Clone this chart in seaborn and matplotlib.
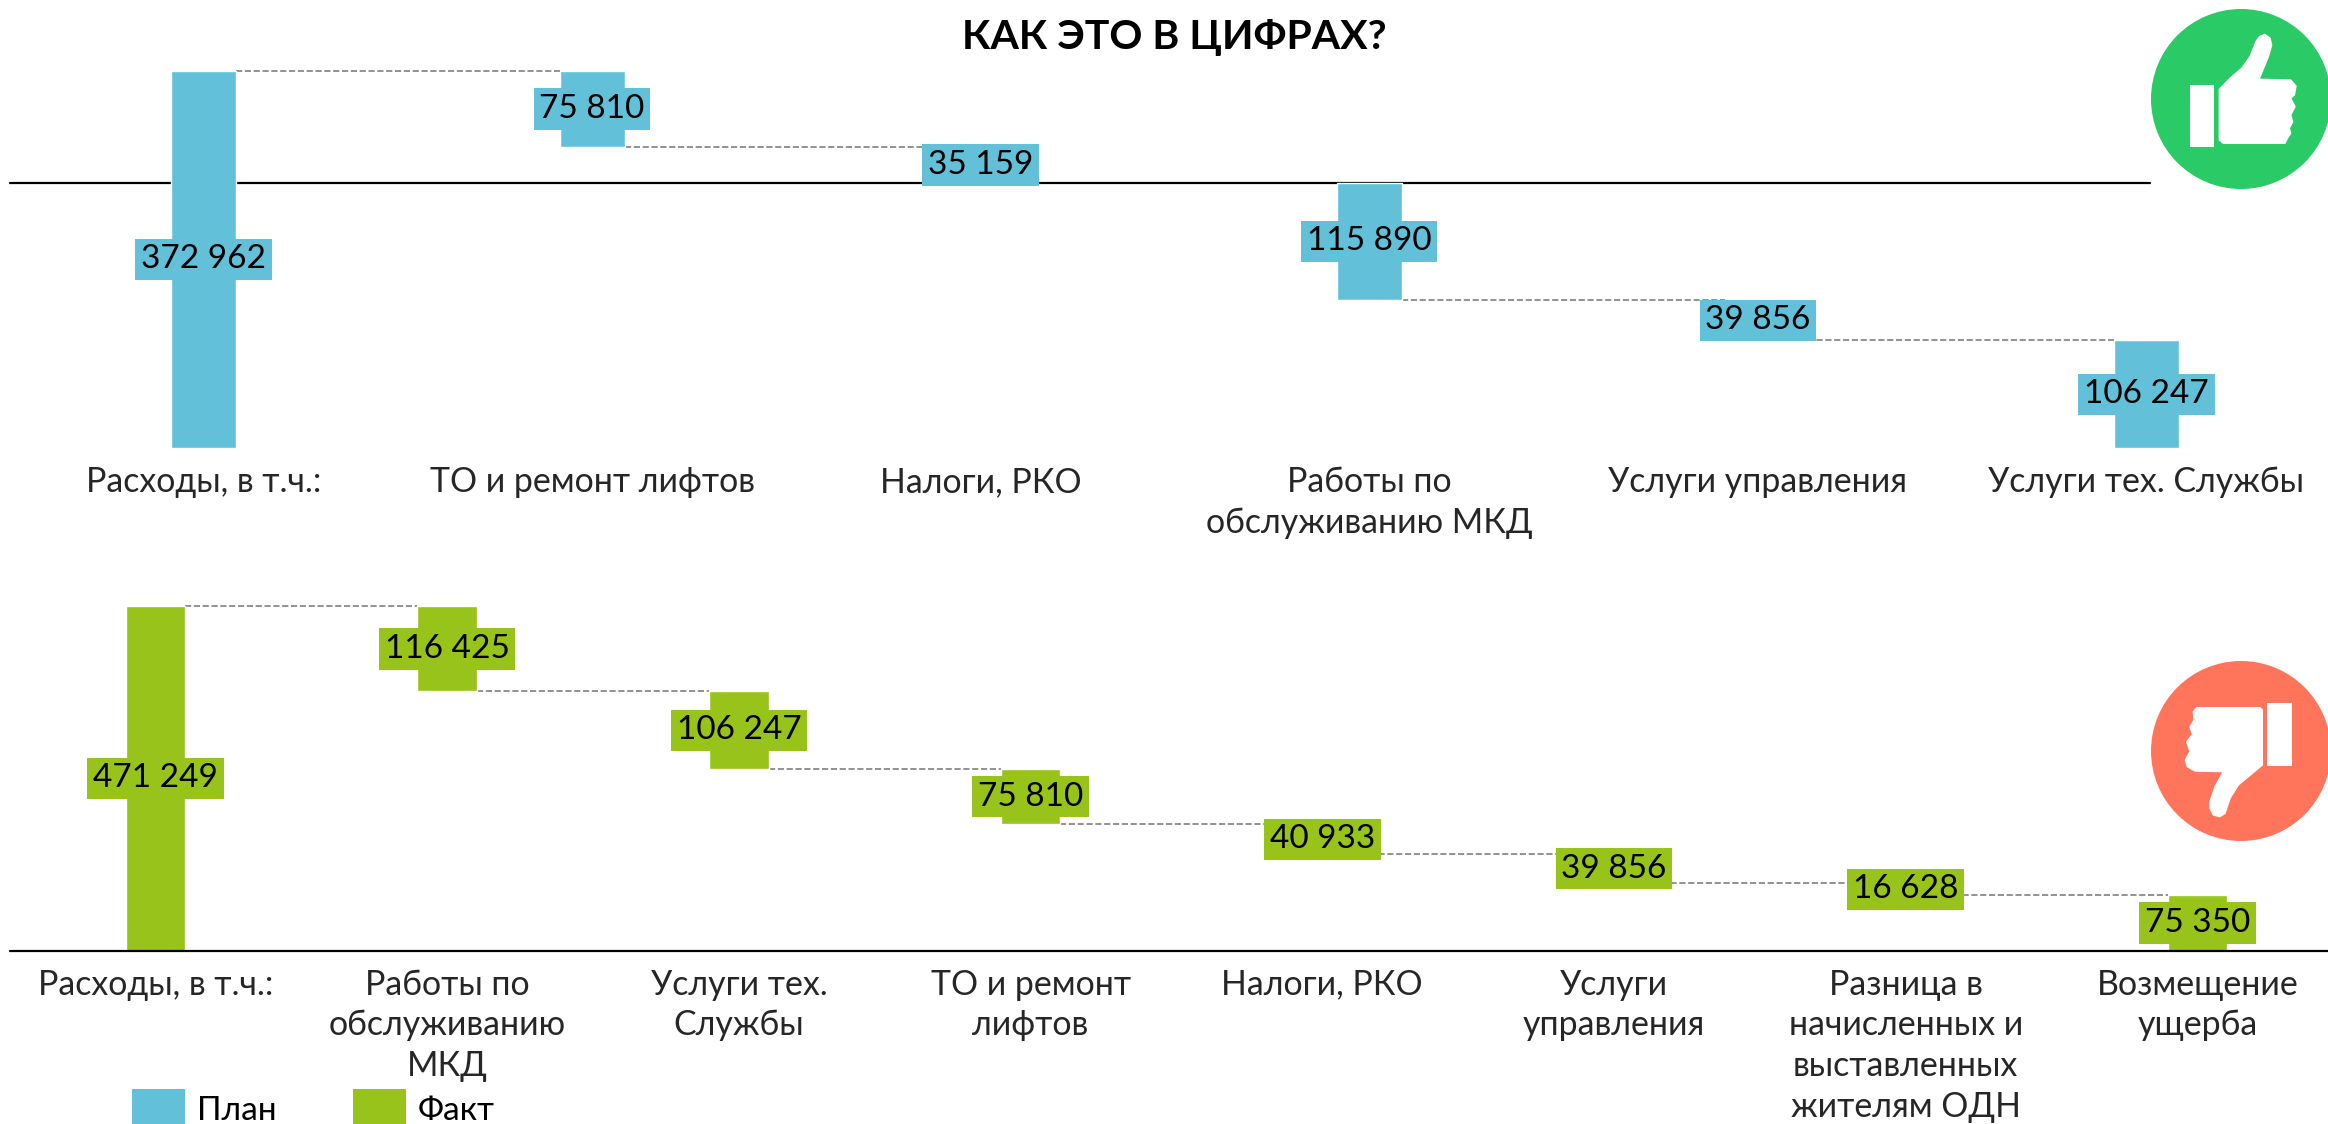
import numpy as np
import matplotlib
matplotlib.use("Agg")
import matplotlib.pyplot as plt
import seaborn as sns
from matplotlib.patches import Circle, Polygon, Rectangle

plan_labels = ["Расходы, в т.ч.:", "ТО и ремонт лифтов", "Налоги, РКО",
               "Работы по\nобслуживанию МКД", "Услуги управления", "Услуги тех. Службы"]
plan_values = [372962, 75810, 35159, 115890, 39856, 106247]

fact_labels = ["Расходы, в т.ч.:", "Работы по\nобслуживанию\nМКД", "Услуги тех.\nСлужбы",
               "ТО и ремонт\nлифтов", "Налоги, РКО", "Услуги\nуправления",
               "Разница в\nначисленных и\nвыставленных\nжителям ОДН", "Возмещение\nущерба"]
fact_values = [471249, 116425, 106247, 75810, 40933, 39856, 16628, 75350]

BLUE = "#62C0D9"
GREEN = "#97C31B"
W, H = 2328, 1124
FS = 24

sns.set_theme(style="white")
plt.rcParams["font.family"] = ["Lato", "Open Sans", "DejaVu Sans"]


def waterfall(ax, labels, values, color, width, x0, step):
    values = np.array(values)
    # first bar stands on zero, the others hang from the running level
    tops = values[0] - np.concatenate(([0, 0], np.cumsum(values[1:])[:-1]))
    bottoms = tops - values
    bottoms[0] = 0

    sns.barplot(x=labels, y=values, bottom=bottoms, color=color, saturation=1,
                width=width, ax=ax, zorder=3)
    ax.set_xlim(-x0 / step, (W - x0) / step)
    ax.set_ylim(0, values[0])
    ax.set_ylabel("")
    ax.set_xlabel("")
    ax.tick_params(axis="x", length=0, pad=13, labelsize=FS + 0.4)
    for t in ax.get_xticklabels():
        t.set_linespacing(1.34)
    ax.set_yticks([])
    ax.patch.set_alpha(0)
    sns.despine(ax=ax, left=True, bottom=True)

    for i, v in enumerate(values):
        ax.text(i, (tops[i] + bottoms[i]) / 2, f"{v:,}".replace(",", " "),
                ha="center", va="center", fontsize=FS, color="black", zorder=5,
                bbox=dict(facecolor=color, edgecolor="none", pad=4))
    # dashed connectors between neighbouring bars
    levels = [tops[0]] + list(bottoms[1:-1])
    for i, y in enumerate(levels):
        ax.plot([i + width / 2, i + 1 - width / 2], [y, y], ls="--", lw=1.2,
                color="#7f7f7f", zorder=2, clip_on=False)
    return tops, bottoms


fig = plt.figure(figsize=(W / 100, H / 100), dpi=100)
ax1 = fig.add_axes([0, 1 - 448 / H, 1, 377.5 / H])
ax2 = fig.add_axes([0, 1 - 950.5 / H, 1, 344 / H])

tops1, _ = waterfall(ax1, plan_labels, plan_values, BLUE, 0.167, 203.5, 388.6)
waterfall(ax2, fact_labels, fact_values, GREEN, 0.205, 155.5, 291.7)

ax1.axhline(tops1[3], xmin=10 / W, xmax=2150 / W, color="black", lw=1.6, zorder=2.5)
ax2.axhline(0, xmin=10 / W, xmax=1, color="black", lw=1.6, zorder=4, clip_on=False)

# overlay in pixel coordinates: title, legend, icons
ov = fig.add_axes([0, 0, 1, 1])
ov.set_xlim(0, W)
ov.set_ylim(H, 0)
ov.axis("off")
ov.patch.set_alpha(0)

ov.text(1174, 37, "КАК ЭТО В ЦИФРАХ?", ha="center", va="center", fontsize=29.5,
        fontweight="bold", color="black")

ov.add_patch(Rectangle((132, 1089), 53, 35, facecolor=BLUE, edgecolor="none"))
ov.add_patch(Rectangle((353, 1089), 53, 35, facecolor=GREEN, edgecolor="none"))
ov.text(197, 1111, "План", ha="left", va="center", fontsize=FS, color="black")
ov.text(418, 1111, "Факт", ha="left", va="center", fontsize=FS, color="black")

hand_up = [(508, 268), (540, 235), (575, 205), (600, 170), (618, 125), (628, 110), (645, 103),
           (660, 115), (665, 135), (655, 170), (627, 238), (722, 240), (738, 258), (733, 285),
           (722, 295), (735, 320), (722, 345), (728, 365), (718, 385), (722, 400), (712, 415),
           (705, 430), (520, 430), (508, 420)]
hand_down = [(637, 210), (630, 203), (440, 203), (430, 215), (432, 240), (420, 262), (428, 283),
             (410, 305), (420, 335), (406, 360), (412, 380), (435, 393), (520, 395), (495, 440),
             (480, 485), (480, 505), (490, 525), (510, 530), (525, 520), (540, 475), (565, 435),
             (637, 375)]


def icon(cy, color, hand, box, off_y):
    ov.add_patch(Circle((2241, cy), 90, facecolor=color, edgecolor="none"))
    pts = [(2050 + x / 3, off_y + y / 3) for x, y in hand]
    ov.add_patch(Polygon(pts, closed=True, facecolor="white", edgecolor="white", lw=1, joinstyle="round"))
    x1, x2, y1, y2 = box
    ov.add_patch(Rectangle((2050 + x1 / 3, off_y + y1 / 3), (x2 - x1) / 3, (y2 - y1) / 3,
                           facecolor="white", edgecolor="none"))


icon(99, "#2ACA66", hand_up, (420, 493, 255, 440), 0)
icon(751, "#FF755C", hand_down, (652, 725, 190, 378), 640)

fig.savefig("out.png", dpi=100)
